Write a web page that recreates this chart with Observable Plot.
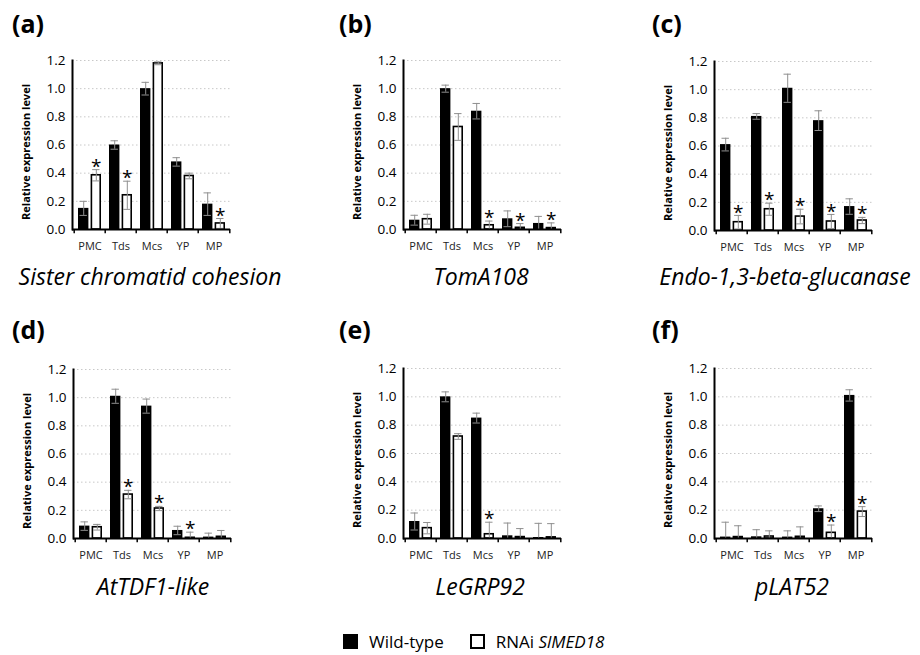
<!DOCTYPE html>
<html>
<head>
<meta charset="utf-8">
<script src="https://cdn.jsdelivr.net/npm/d3@7"></script>
<script src="https://cdn.jsdelivr.net/npm/@observablehq/plot@0.6"></script>
<style>
  html, body { margin: 0; padding: 0; background: #fff; }
  #root { position: relative; width: 920px; height: 655px; font-family: "Open Sans", sans-serif; overflow: hidden; }
  .panel-label { position: absolute; font-weight: bold; font-size: 25px; line-height: 1; color: #000; }
  .gene { position: absolute; font-style: italic; font-size: 23px; line-height: 1; color: #000; transform: translateX(-50%); white-space: nowrap; }
  .ylab { position: absolute; font-weight: bold; font-size: 11px; line-height: 1; color: #000; white-space: nowrap; transform: translate(-50%, -50%) rotate(-90deg); }
  .plotbox { position: absolute; }
  .legend { position: absolute; left: 343px; top: 630px; font-size: 17px; display: flex; align-items: center; white-space: nowrap; }
  .sw { display: inline-block; width: 15px; height: 15px; box-sizing: border-box; margin-right: 11px; }
</style>
</head>
<body>
<div id="root"></div>
<script>
// ---- data ----
const stages = ["PMC", "Tds", "Mcs", "YP", "MP"];
const panelLabels = ["(a)", "(b)", "(c)", "(d)", "(e)", "(f)"];
const genes = ["Sister chromatid cohesion", "TomA108", "Endo-1,3-beta-glucanase", "AtTDF1-like", "LeGRP92", "pLAT52"];
const yTicks = [0, 0.2, 0.4, 0.6, 0.8, 1.0, 1.2];
const yLabel = "Relative expression level";
const seriesNames = ["Wild-type", "RNAi"];

// Wild-type means / errors per panel (a..f), in stage order
const wtMean = [
  [0.15, 0.60, 1.00, 0.48, 0.18],
  [0.066, 1.00, 0.84, 0.076, 0.043],
  [0.61, 0.81, 1.01, 0.78, 0.17],
  [0.088, 1.01, 0.94, 0.057, 0.01],
  [0.12, 1.00, 0.85, 0.019, 0.007],
  [0.01, 0.012, 0.01, 0.21, 1.01]
];
const wtErr = [
  [0.05, 0.03, 0.045, 0.03, 0.08],
  [0.035, 0.025, 0.055, 0.056, 0.05],
  [0.045, 0.02, 0.10, 0.07, 0.055],
  [0.03, 0.05, 0.05, 0.03, 0.028],
  [0.06, 0.035, 0.035, 0.09, 0.10],
  [0.105, 0.05, 0.044, 0.02, 0.04]
];
// RNAi SlMED18 means / errors per panel
const kdMean = [
  [0.385, 0.243, 1.18, 0.38, 0.043],
  [0.073, 0.728, 0.03, 0.012, 0.01],
  [0.059, 0.151, 0.099, 0.064, 0.071],
  [0.08, 0.312, 0.213, 0.005, 0.012],
  [0.073, 0.72, 0.03, 0.01, 0.008],
  [0.01, 0.014, 0.012, 0.04, 0.19]
];
const kdErr = [
  [0.04, 0.10, 0.01, 0.02, 0.035],
  [0.035, 0.095, 0.03, 0.03, 0.037],
  [0.048, 0.043, 0.052, 0.05, 0.022],
  [0.02, 0.03, 0.015, 0.04, 0.045],
  [0.04, 0.02, 0.085, 0.06, 0.097],
  [0.08, 0.04, 0.07, 0.055, 0.035]
];
// significance asterisks on the RNAi bars
const kdStar = [
  [1, 1, 0, 0, 1],
  [0, 0, 1, 1, 1],
  [1, 1, 1, 1, 1],
  [0, 1, 1, 1, 0],
  [0, 0, 1, 0, 0],
  [0, 0, 0, 1, 1]
];

// ---- layout (pixels) ----
const layout = [
  {left: 0,   top: 0,   axisX: 72,  right: 230, topY: 60,  zeroY: 229, labX: 12,  labY: 11,  geneX: 150, geneY: 265},
  {left: 305, top: 0,   axisX: 403, right: 561, topY: 60,  zeroY: 229, labX: 339, labY: 11,  geneX: 481, geneY: 265},
  {left: 610, top: 0,   axisX: 714, right: 872, topY: 61,  zeroY: 230, labX: 652, labY: 11,  geneX: 785, geneY: 265},
  {left: 0,   top: 305, axisX: 73,  right: 231, topY: 369, zeroY: 538, labX: 12,  labY: 317, geneX: 153, geneY: 575},
  {left: 305, top: 305, axisX: 403, right: 561, topY: 368, zeroY: 538, labX: 339, labY: 317, geneX: 480, geneY: 575},
  {left: 610, top: 305, axisX: 714, right: 872, topY: 368, zeroY: 538, labX: 652, labY: 317, geneX: 792, geneY: 575}
];

const root = document.getElementById("root");
const boxW = 305, boxH = 290;
const bw = 31.6; // band width (5 bands over ~158px)
const barInsetOuter = 4, barInsetInner = 16.6;
const off = (barInsetOuter + (bw - barInsetOuter - barInsetInner) / 2) - bw / 2; // center of left bar from band center
const capHalf = 4;

layout.forEach((L, p) => {
  const rows = stages.map((s, i) => ({
    stage: s,
    wt: wtMean[p][i], wtE: wtErr[p][i],
    kd: kdMean[p][i], kdE: kdErr[p][i],
    star: kdStar[p][i]
  }));
  const cL = bw / 2 + off;  // left bar center within band
  const cR = bw / 2 - off;  // right bar center within band

  const chart = Plot.plot({
    width: boxW,
    height: boxH,
    marginLeft: L.axisX - L.left,
    marginRight: L.left + boxW - L.right,
    marginTop: L.topY - L.top,
    marginBottom: L.top + boxH - L.zeroY,
    style: {fontFamily: "'Open Sans', sans-serif", color: "#000", background: "transparent", overflow: "visible"},
    x: {type: "band", domain: stages, padding: 0, align: 0.5, axis: null},
    y: {domain: [0, 1.2], axis: null},
    marks: [
      Plot.ruleY(yTicks.filter(d => d > 0), {stroke: "#c8c8c8", strokeWidth: 1, strokeDasharray: "1.5,2.5"}),
      Plot.barY(rows, {x: "stage", y: "wt", fill: "#000", insetLeft: barInsetOuter, insetRight: barInsetInner}),
      Plot.barY(rows, {x: "stage", y: "kd", fill: "#fff", stroke: "#000", strokeWidth: 1.6, insetLeft: barInsetInner + 0.8, insetRight: barInsetOuter + 0.8}),
      // error bars
      Plot.ruleX(rows, {x: "stage", y1: d => d.wt - d.wtE, y2: d => d.wt + d.wtE, dx: off, stroke: "#8f8f8f", strokeWidth: 1, clip: true}),
      Plot.ruleX(rows, {x: "stage", y1: d => d.kd - d.kdE, y2: d => d.kd + d.kdE, dx: -off, stroke: "#8f8f8f", strokeWidth: 1, clip: true}),
      Plot.tickY(rows, {x: "stage", y: d => d.wt + d.wtE, insetLeft: cL - capHalf, insetRight: bw - cL - capHalf, stroke: "#8f8f8f", strokeWidth: 1}),
      Plot.tickY(rows, {x: "stage", y: d => d.wt - d.wtE, insetLeft: cL - capHalf, insetRight: bw - cL - capHalf, stroke: "#8f8f8f", strokeWidth: 1, clip: true}),
      Plot.tickY(rows, {x: "stage", y: d => d.kd + d.kdE, insetLeft: cR - capHalf, insetRight: bw - cR - capHalf, stroke: "#8f8f8f", strokeWidth: 1}),
      Plot.tickY(rows, {x: "stage", y: d => d.kd - d.kdE, insetLeft: cR - capHalf, insetRight: bw - cR - capHalf, stroke: "#8f8f8f", strokeWidth: 1, clip: true}),
      // asterisks
      Plot.text(rows.filter(d => d.star), {x: "stage", y: d => d.kd + d.kdE, dx: -off, dy: -3, text: () => "*", fontSize: 19, fill: "#000"}),
      // axes
      Plot.ruleY([0], {stroke: "#000", strokeWidth: 2}),
      Plot.frame({anchor: "left", stroke: "#000", strokeWidth: 2}),
      Plot.ruleX(stages, {x: d => d, dx: -bw / 2, y1: 0, y2: -0.03, stroke: "#000", strokeWidth: 1.5}),
      Plot.ruleX(stages.slice(-1), {x: d => d, dx: bw / 2, y1: 0, y2: -0.03, stroke: "#000", strokeWidth: 1.5}),
      Plot.axisY(yTicks, {tickSize: 0, tickPadding: 7, tickFormat: d3.format(".1f"), fontSize: 13.5, label: null}),
      Plot.axisX(stages, {tickSize: 0, tickPadding: 13, fontSize: 11, label: null, fill: "#222"})
    ]
  });
  const box = document.createElement("div");
  box.className = "plotbox";
  box.style.left = L.left + "px";
  box.style.top = L.top + "px";
  box.appendChild(chart);
  root.appendChild(box);

  const yl = document.createElement("div");
  yl.className = "ylab";
  yl.style.left = (L.axisX - 47) + "px";
  yl.style.top = ((L.topY + L.zeroY) / 2 + 7) + "px";
  yl.textContent = yLabel;
  root.appendChild(yl);

  const lab = document.createElement("div");
  lab.className = "panel-label";
  lab.style.left = L.labX + "px";
  lab.style.top = L.labY + "px";
  lab.textContent = panelLabels[p];
  root.appendChild(lab);

  const g = document.createElement("div");
  g.className = "gene";
  g.style.left = L.geneX + "px";
  g.style.top = L.geneY + "px";
  g.textContent = genes[p];
  root.appendChild(g);
});

// legend
const leg = document.createElement("div");
leg.className = "legend";
leg.innerHTML =
  `<span class="sw" style="background:#000"></span><span style="margin-right:26px">${seriesNames[0]}</span>` +
  `<span class="sw" style="background:#fff;border:2px solid #000"></span><span>${seriesNames[1]} <i>SlMED18</i></span>`;
root.appendChild(leg);
</script>
</body>
</html>
